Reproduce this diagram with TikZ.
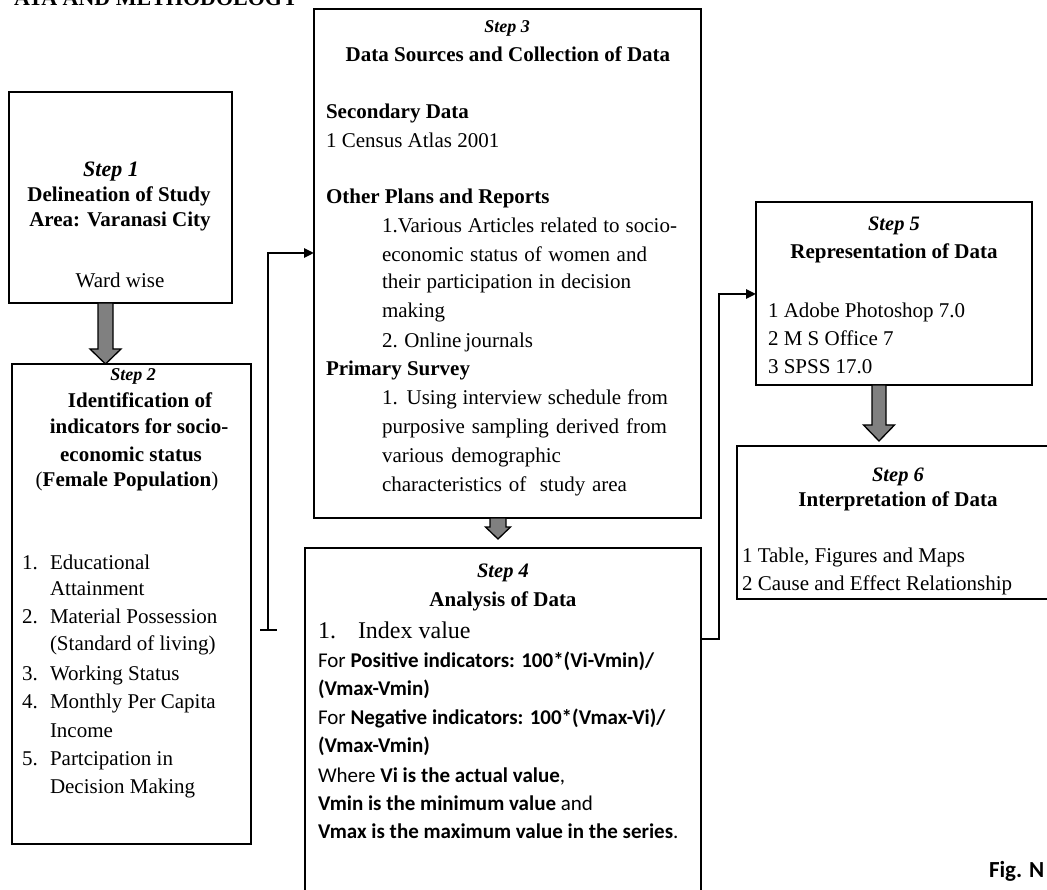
\documentclass[tikz,border=0pt]{standalone}
\usepackage{fontspec}
\setmainfont{Liberation Serif}
\newfontfamily\calfont{Carlito}
\usetikzlibrary{arrows.meta,calc}
\definecolor{arrgray}{RGB}{128,128,128}
\tikzset{
  box/.style={draw=black, line width=1.3pt, inner sep=0pt, outer sep=0pt, anchor=north west},
  txt/.style={inner sep=0pt, outer sep=0pt, font=\fontsize{21}{25}\selectfont},
  conn/.style={draw=black, line width=2.6pt},
  tipend/.style={-{Triangle[length=10pt,width=9pt]}},
  barrow/.style={fill=arrgray, draw=black, line width=1.3pt, line join=miter},
}
\newcommand\Ctx[4]{\node[txt,anchor=base] (#1) at (#2,#3) {#4};}
\newcommand\Ltx[4]{\node[txt,anchor=base west] (#1) at (#2,#3) {#4};}
\newcommand\stepfont[1]{\fontsize{#1}{#1}\selectfont\bfseries\itshape}
\newcommand\blockarrow[5]{\draw[barrow] let \p1=(#1), \p2=(#2) in
  (\x1-#3,\y1) -- (\x1+#3,\y1) -- (\x1+#3,\y2+#5) -- (\x1+#4,\y2+#5) -- (\x2,\y2)
  -- (\x1-#4,\y2+#5) -- (\x1-#3,\y2+#5) -- cycle;}
\begin{document}
\begin{tikzpicture}[x=1pt,y=-1pt]
\useasboundingbox (0,0) rectangle (1047,890);
\fill[white] (0,0) rectangle (1047,890);
\clip (0,0) rectangle (1047,890);

% title (cut off at the top)
\node[txt, anchor=base east, font=\bfseries\fontsize{22}{22}\selectfont] (title) at (298,6) {ATA AND METHODOLOGY};

% boxes
\node[box, minimum width=223pt, minimum height=211pt] (b1) at (9,92) {};
\node[box, minimum width=239pt, minimum height=480pt] (b2) at (12,364) {};
\node[box, minimum width=387pt, minimum height=509pt] (b3) at (314,9) {};
\node[box, minimum width=396pt, minimum height=360pt] (b4) at (305,548) {};
\node[box, minimum width=276pt, minimum height=183pt] (b5) at (756,202) {};
\node[box, minimum width=330pt, minimum height=153pt] (b6) at (737,446) {};

% block arrows
\coordinate (a12) at (105.5,364);
\blockarrow{b1.south -| a12}{b2.north -| a12}{7.5}{15.5}{15}
\coordinate (a34) at (498,539);
\blockarrow{b3.south -| a34}{a34}{8}{12.5}{12}
\coordinate (a56) at (879,441);
\blockarrow{b5.south -| a56}{a56}{7}{15.5}{16}

% elbow connectors
\coordinate (s2) at (268,630);
\coordinate (j3) at (0,253);
\draw[conn,tipend] (s2) |- (b3.west |- j3);
\draw[conn] ($(s2)+(-8,0)$) -- ($(s2)+(9,0)$);
\coordinate (k4) at (719,639);
\coordinate (j5) at (0,294);
\draw[conn,tipend] (k4 -| b4.east) -- (k4) |- (b5.west |- j5);

% Step 1
\Ctx{s1}{111}{177}{\stepfont{22}Step 1}
\Ctx{h1a}{119}{202}{\bfseries Delineation of Study}
\Ctx{h1b}{120}{227}{\bfseries Area: Varanasi City}
\Ctx{w1}{120}{288}{Ward wise}

% Step 2
\Ctx{s2t}{133}{381}{\stepfont{18}Step 2}
\Ctx{h2a}{140}{408}{\bfseries Identification of}
\Ctx{h2b}{139}{434}{\bfseries indicators for socio-}
\Ctx{h2c}{131}{461}{\bfseries economic status}
\Ctx{h2d}{127}{486}{({\bfseries Female Population})}
\Ltx{n1}{22}{569}{1.}
\Ltx{i1a}{50}{569}{Educational}
\Ltx{i1b}{50}{595}{Attainment}
\Ltx{n2}{22}{623}{2.}
\Ltx{i2a}{50}{623}{Material Possession}
\Ltx{i2b}{50}{650}{(Standard of living)}
\Ltx{n3}{22}{680}{3.}
\Ltx{i3}{50}{680}{Working Status}
\Ltx{n4}{22}{708}{4.}
\Ltx{i4a}{50}{708}{Monthly Per Capita}
\Ltx{i4b}{50}{737}{Income}
\Ltx{n5}{22}{765}{5.}
\Ltx{i5a}{50}{765}{Partcipation in}
\Ltx{i5b}{50}{793}{Decision Making}

% Step 3
\Ctx{s3}{507}{33}{\stepfont{18}Step 3}
\Ctx{h3}{508}{62}{\bfseries Data Sources and Collection of Data}
\Ltx{h3a}{326}{119}{\bfseries Secondary Data}
\Ltx{c3a}{326}{148}{1 Census Atlas 2001}
\Ltx{h3b}{326}{204}{\bfseries Other Plans and Reports}
\Ltx{c3b}{382}{233}{\makebox[295pt][s]{1.Various Articles related to socio-}}
\Ltx{c3c}{382}{262}{\makebox[265pt][s]{economic status of women and}}
\Ltx{c3d}{382}{289}{\makebox[249pt][s]{their participation in decision}}
\Ltx{c3e}{382}{318}{making}
\Ltx{c3f}{382}{348}{\makebox[151pt][s]{2. Online journals}}
\Ltx{h3c}{326}{376}{\bfseries Primary Survey}
\Ltx{c3g}{382}{405}{\makebox[286pt][s]{1. Using interview schedule from}}
\Ltx{c3h}{382}{433}{\makebox[285pt][s]{purposive sampling derived from}}
\Ltx{c3i}{382}{462}{\makebox[179pt][s]{various demographic}}
\Ltx{c3j}{382}{491}{\makebox[245pt][s]{characteristics of\ \ study area}}

% Step 4
\Ctx{s4}{503}{577}{\stepfont{20.5}Step 4}
\Ctx{h4}{503}{606}{\bfseries Analysis of Data}
\Ltx{n4a}{318}{638}{\fontsize{24}{24}\selectfont 1.}
\Ltx{c4a}{358}{638}{\fontsize{24}{24}\selectfont Index value}
\Ltx{c4b}{318}{667}{\calfont For \textbf{Positive indicators: 100*(Vi-Vmin)/}}
\Ltx{c4c}{318}{695}{\calfont\bfseries (Vmax-Vmin)}
\Ltx{c4d}{318}{724}{\calfont For \textbf{Negative indicators: 100*(Vmax-Vi)/}}
\Ltx{c4e}{318}{752}{\calfont\bfseries (Vmax-Vmin)}
\Ltx{c4f}{318}{782}{\calfont Where \textbf{Vi is the actual value},}
\Ltx{c4g}{318}{810}{\calfont\textbf{Vmin is the minimum value} and}
\Ltx{c4h}{318}{838}{\calfont\textbf{Vmax is the maximum value in the series}.}

% Step 5
\Ctx{s5}{894}{231}{\stepfont{20.5}Step 5}
\Ctx{h5}{894}{259}{\bfseries Representation of Data}
\Ltx{c5a}{768}{318}{1 Adobe Photoshop 7.0}
\Ltx{c5b}{768}{346}{2 M S Office 7}
\Ltx{c5c}{768}{374}{3 SPSS 17.0}

% Step 6
\Ctx{s6}{898}{481}{\stepfont{20.5}Step 6}
\Ctx{h6}{898}{506}{\bfseries Interpretation of Data}
\Ltx{c6a}{742}{562}{1 Table, Figures and Maps}
\Ltx{c6b}{742}{590}{2 Cause and Effect Relationship}

% figure label (cut off at the right)
\node[txt, anchor=base west, font=\calfont\bfseries\fontsize{23}{23}\selectfont] (fig) at (989,877) {Fig. N};
\end{tikzpicture}
\end{document}
